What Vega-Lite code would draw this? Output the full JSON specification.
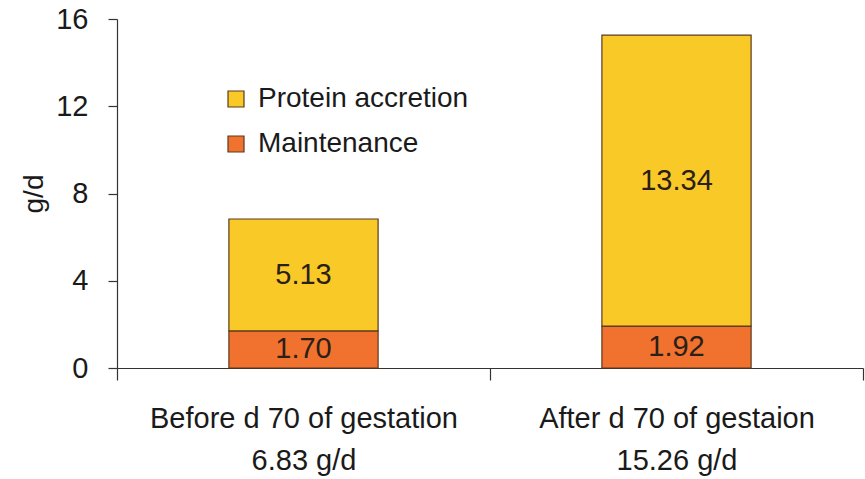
{
  "$schema": "https://vega.github.io/schema/vega-lite/v6.json",
  "width": 746,
  "height": 349,
  "autosize": {"type": "none"},
  "padding": {"left": 117, "top": 19, "right": 2, "bottom": 111},
  "background": "white",
  "config": {
    "view": {"stroke": null},
    "font": "Liberation Sans",
    "axis": {"grid": false, "domainColor": "#333333", "tickColor": "#333333", "labelColor": "#1a1a1a", "titleColor": "#1a1a1a", "labelFont": "Liberation Sans", "titleFont": "Liberation Sans", "domainWidth": 1.2, "tickWidth": 1.2}
  },
  "data": {
    "values": [
      {"period": "Before d 70 of gestation;6.83 g/d", "component": "Maintenance", "value": 1.70},
      {"period": "Before d 70 of gestation;6.83 g/d", "component": "Protein accretion", "value": 5.13},
      {"period": "After d 70 of gestaion;15.26 g/d", "component": "Maintenance", "value": 1.92},
      {"period": "After d 70 of gestaion;15.26 g/d", "component": "Protein accretion", "value": 13.34}
    ]
  },
  "transform": [
    {"stack": "value", "groupby": ["period"], "sort": [{"field": "component", "order": "ascending"}], "as": ["v0", "v1"]},
    {"calculate": "(datum.v0 + datum.v1) / 2", "as": "mid"}
  ],
  "encoding": {
    "x": {
      "field": "period",
      "type": "nominal",
      "sort": null,
      "scale": {"paddingInner": 0, "paddingOuter": 0},
      "axis": {
        "title": null,
        "labelAngle": 0,
        "labelFontSize": 29,
        "labelLimit": 0,
        "labelExpr": "split(datum.label, ';')",
        "labelLineHeight": 42,
        "labelPadding": 24,
        "tickBand": "extent",
        "tickSize": 12
      }
    }
  },
  "layer": [
    {
      "mark": {"type": "bar", "stroke": "#5a3a1e", "strokeWidth": 1.2, "width": {"band": 0.4}},
      "encoding": {
        "y": {
          "field": "v1",
          "type": "quantitative",
          "scale": {"domain": [0, 16], "nice": false},
          "axis": {
            "values": [0, 4, 8, 12, 16],
            "title": "g/d",
            "titleFontSize": 28,
            "titleFontWeight": "normal",
            "titlePadding": 7,
            "labelFontSize": 29,
            "labelPadding": 20,
            "tickSize": 9
          }
        },
        "y2": {"field": "v0"},
        "color": {
          "field": "component",
          "type": "nominal",
          "scale": {"domain": ["Protein accretion", "Maintenance"], "range": ["#F9C928", "#F1712E"]},
          "legend": {
            "title": null,
            "orient": "none",
            "legendX": 105,
            "legendY": 66,
            "symbolType": "square",
            "symbolSize": 256,
            "symbolStrokeColor": "#5a3a1e",
            "symbolStrokeWidth": 1.2,
            "symbolOpacity": 1,
            "labelFontSize": 28,
            "labelLimit": 0,
            "labelColor": "#1a1a1a",
            "labelOffset": 8,
            "rowPadding": 17
          }
        }
      }
    },
    {
      "mark": {"type": "text", "fontSize": 29, "color": "#2a2018", "baseline": "middle"},
      "encoding": {
        "y": {"field": "mid", "type": "quantitative"},
        "text": {"field": "value", "type": "quantitative", "format": ".2f"}
      }
    }
  ]
}
